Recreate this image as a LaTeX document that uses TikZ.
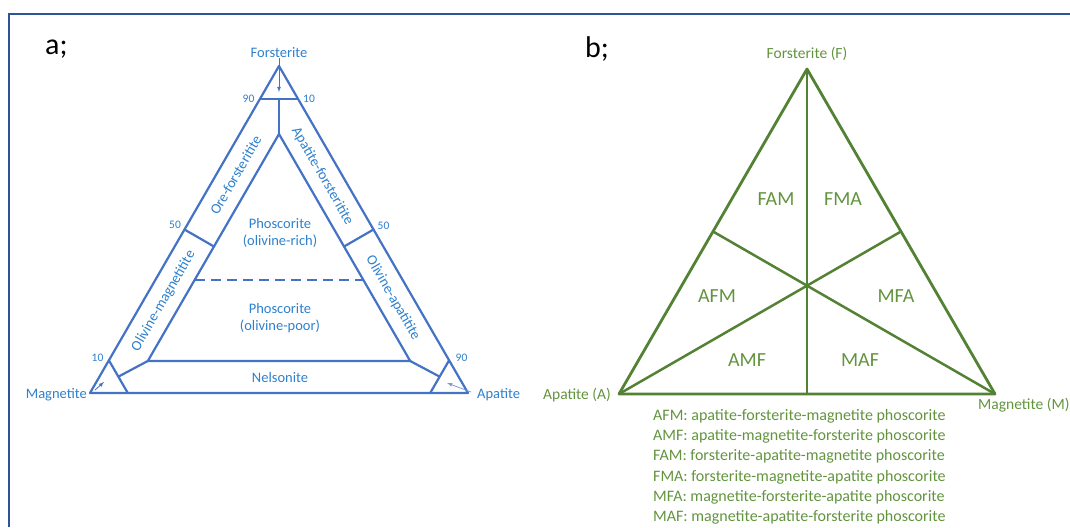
\documentclass[tikz,border=0pt]{standalone}
\usepackage{fontspec}
\setmainfont{Carlito}
\usetikzlibrary{calc}
\definecolor{tblue}{RGB}{68,114,196}
\definecolor{tbluetext}{RGB}{46,128,204}
\definecolor{tgreen}{RGB}{84,130,53}
\definecolor{tgreentext}{RGB}{98,148,62}
\definecolor{frameblue}{RGB}{47,84,150}
\newcommand{\fsz}[1]{\fontsize{#1}{1.22\dimexpr #1pt\relax}\selectfont}
\begin{document}
\begin{tikzpicture}
[x=1pt,y=-1pt,
 blueline/.style={draw=tblue,line width=2.2pt,line join=round},
 greenline/.style={draw=tgreen,line width=2.8pt,line join=round},
 bluetxt/.style={text=tbluetext,font=\fsz{14.5},inner sep=0pt},
 bluenum/.style={text=tbluetext,font=\fsz{11.5},inner sep=0pt},
 greentxt/.style={text=tgreentext,font=\fsz{15.5},inner sep=0pt},
 regiontxt/.style={text=tgreentext,font=\fsz{20},inner sep=0pt},
 legendtxt/.style={text=tgreentext,font=\fsz{16},inner sep=0pt,anchor=west},
 paneltxt/.style={font=\fsz{30},inner sep=0pt,anchor=base west}]
\useasboundingbox (0,0) rectangle (1070,527);
%% frame
\coordinate (fr1) at (9,527);
\coordinate (fr2) at (9,14);
\coordinate (fr3) at (1070,14);
\draw[frameblue,line width=2pt] (fr1) -- (fr2) -- (fr3);
\node[paneltxt] (pa) at (45,55) {a;};
\node[paneltxt] (pb) at (585,57) {b;};
%%
%% a; classification triangle
\coordinate (F1) at (279,66);
\coordinate (M1) at (90,393);
\coordinate (A1) at (468,393);
\coordinate (iF) at (279,134);
\coordinate (iM) at (147.8,361);
\coordinate (iA) at (410.2,361);
\draw[blueline] (F1) -- (M1) -- (A1) -- cycle; %% outer
\draw[blueline] (iF) -- (iM) -- (iA) -- cycle; %% inner
\coordinate (tF1) at ($(F1)!0.1!(M1)$);
\coordinate (tF2) at ($(F1)!0.1!(A1)$);
\coordinate (tM1) at ($(M1)!0.1!(F1)$);
\coordinate (tM2) at ($(M1)!0.1!(A1)$);
\coordinate (tA1) at ($(A1)!0.1!(F1)$);
\coordinate (tA2) at ($(A1)!0.1!(M1)$);
\draw[blueline] (tF1) -- (tF2); %% 10 forsterite
\draw[blueline] (tM1) -- (tM2); %% 10 magnetite
\draw[blueline] (tA1) -- (tA2); %% 10 apatite
\draw[blueline] ($(tF1)!0.5!(tF2)$) -- (iF);
\draw[blueline] ($(tM1)!0.5!(tM2)$) -- (iM);
\draw[blueline] ($(tA1)!0.5!(tA2)$) -- (iA);
\coordinate (hL) at ($(F1)!0.5!(M1)$);
\coordinate (hR) at ($(F1)!0.5!(A1)$);
\draw[blueline] (hL) -- ($(iF)!(hL)!(iM)$); %% 50 left
\draw[blueline] (hR) -- ($(iF)!(hR)!(iA)$); %% 50 right
\coordinate (dL) at ($(iF)!0.643!(iM)$);
\coordinate (dR) at ($(iF)!0.643!(iA)$);
\draw[blueline,line width=2pt,dash pattern=on 10pt off 6pt] (dL) -- (dR);
%%
\node[bluetxt] (lblF) at (279,53) {Forsterite};
\node[bluetxt,anchor=east] (lblM) at (87,395) {Magnetite};
\node[bluetxt,anchor=west] (lblA) at (477,395) {Apatite};
\coordinate (arF) at (279,92);
\coordinate (arM0) at (95,390);
\coordinate (arM) at (104,382);
\coordinate (arA0) at (471,392);
\coordinate (arA) at (447,383);
\draw[tblue,line width=0.8pt,-latex] (lblF) -- (arF);
\draw[tblue,line width=0.8pt,-latex] (arM0) -- (arM);
\draw[tblue!70,line width=0.8pt,-latex] (arA0) -- (arA);
\node[bluenum] (n90a) at (248.5,98.5) {90};
\node[bluenum] (n10a) at (309,98.5) {10};
\node[bluenum] (n50a) at (175,225) {50};
\node[bluenum] (n50b) at (383.5,226) {50};
\node[bluenum] (n10b) at (97.5,358) {10};
\node[bluenum] (n90b) at (461.5,358) {90};
\node[bluetxt,rotate=60] (ore) at (235.6,175) {Ore-forsteritite};
\node[bluetxt,rotate=-60] (apf) at (322.4,176) {Apatite-forsteritite};
\node[bluetxt,rotate=60] (olm) at (163.5,301) {Olivine-magnetitite};
\node[bluetxt,rotate=-60] (ola) at (393,298) {Olivine-apatitite};
\node[bluetxt,align=center] (phr) at (280,233) {Phoscorite\\(olivine-rich)};
\node[bluetxt,align=center] (php) at (280,318) {Phoscorite\\(olivine-poor)};
\node[bluetxt] (nel) at (280,378) {Nelsonite};
%%
%% b; triangle
\coordinate (F2) at (807,69);
\coordinate (A2) at (619,394);
\coordinate (M2) at (995,394);
\draw[greenline] (F2) -- (A2) -- (M2) -- cycle;
\draw[greenline,line width=2.5pt] (F2) -- ($(A2)!0.5!(M2)$);
\draw[greenline,line width=2.5pt] (A2) -- ($(F2)!0.5!(M2)$);
\draw[greenline,line width=2.5pt] (M2) -- ($(F2)!0.5!(A2)$);
\node[greentxt] (lblF2) at (807,54) {Forsterite (F)};
\node[greentxt,anchor=east] (lblA2) at (611,395) {Apatite (A)};
\node[greentxt,anchor=west] (lblM2) at (978,405) {Magnetite (M)};
\node[regiontxt] (fam) at (776,199) {FAM};
\node[regiontxt] (fma) at (843,199) {FMA};
\node[regiontxt] (afm) at (717,296) {AFM};
\node[regiontxt] (mfa) at (896,296) {MFA};
\node[regiontxt] (amf) at (747,360) {AMF};
\node[regiontxt] (maf) at (860,360) {MAF};
%% legend
\node[legendtxt] (leg1) at (653,416.5) {AFM: apatite-forsterite-magnetite phoscorite};
\node[legendtxt] (leg2) at (653,436.5) {AMF: apatite-magnetite-forsterite phoscorite};
\node[legendtxt] (leg3) at (653,456.7) {FAM: forsterite-apatite-magnetite phoscorite};
\node[legendtxt] (leg4) at (653,477) {FMA: forsterite-magnetite-apatite phoscorite};
\node[legendtxt] (leg5) at (653,497.5) {MFA: magnetite-forsterite-apatite phoscorite};
\node[legendtxt] (leg6) at (653,517.8) {MAF: magnetite-apatite-forsterite phoscorite};
\end{tikzpicture}
\end{document}
